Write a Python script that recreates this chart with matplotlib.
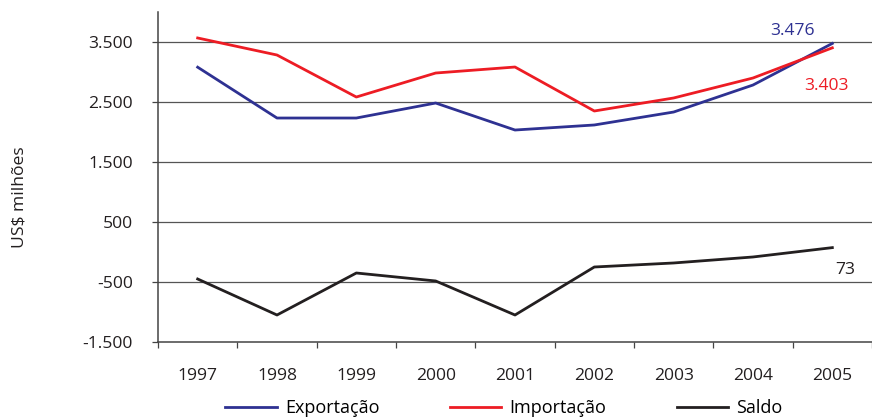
import matplotlib.pyplot as plt

# --- DATA ---
anos = ["1997", "1998", "1999", "2000", "2001", "2002", "2003", "2004", "2005"]
exportacao = [3080, 2233, 2233, 2483, 2033, 2117, 2333, 2783, 3476]
importacao = [3567, 3283, 2583, 2983, 3083, 2350, 2567, 2900, 3403]
saldo = [-450, -1050, -350, -483, -1050, -250, -183, -83, 73]
y_ticks = [-1500, -500, 500, 1500, 2500, 3500]
y_labels = ["-1.500", "-500", "500", "1.500", "2.500", "3.500"]

AZUL = "#2e3192"
VERMELHO = "#ed1c24"
PRETO = "#231f20"
FS = 12.6

plt.rcParams["font.family"] = ["Open Sans", "DejaVu Sans"]

fig = plt.figure(figsize=(8.72, 4.17), dpi=100)
ax = fig.add_axes([158 / 872, 1 - 342 / 417, 1 - 158 / 872, (342 - 12) / 417])

x = list(range(len(anos)))
ax.plot(x, exportacao, color=AZUL, lw=2.0, label="Exportação")
ax.plot(x, importacao, color=VERMELHO, lw=2.0, label="Importação")
ax.plot(x, saldo, color=PRETO, lw=2.0, label="Saldo")

ax.set_xlim(-0.5, 8.425)
ax.set_ylim(-1500, 4000)

# horizontal grid lines
for v in y_ticks[1:]:
    ax.axhline(v, color="#555555", lw=0.9, zorder=0)

ax.set_yticks(y_ticks)
ax.set_yticklabels(y_labels)
ax.set_xticks(x)
ax.set_xticklabels(anos)
ax.set_xticks([i - 0.5 for i in range(len(anos) + 1)], minor=True)
ax.tick_params(axis="x", which="major", length=0, pad=19, labelsize=FS, labelcolor=PRETO)
ax.tick_params(axis="x", which="minor", length=4, width=0.9, color="#444444")
ax.tick_params(axis="y", length=4, width=0.9, pad=14, labelsize=FS, color="#444444", labelcolor=PRETO)

for s in ["top", "right"]:
    ax.spines[s].set_visible(False)
for s in ["left", "bottom"]:
    ax.spines[s].set_color("#444444")
    ax.spines[s].set_linewidth(1.1)

ax.set_ylabel("US$ milhões", fontsize=FS, color=PRETO)
ax.yaxis.set_label_coords(-0.183, 0.44)

# value labels at the end
ax.text(7.5, 3683, "3.476", color=AZUL, fontsize=FS, ha="center", va="center")
ax.text(7.925, 2767, "3.403", color=VERMELHO, fontsize=FS, ha="center", va="center")
ax.text(8.16, -300, "73", color=PRETO, fontsize=FS, ha="center", va="center")

fig.legend(loc="center", bbox_to_anchor=(0.578, 0.022), ncol=3, frameon=False,
           fontsize=13, handlelength=2.85, handletextpad=0.45, columnspacing=3.9)

plt.savefig("out.png", dpi=100)
